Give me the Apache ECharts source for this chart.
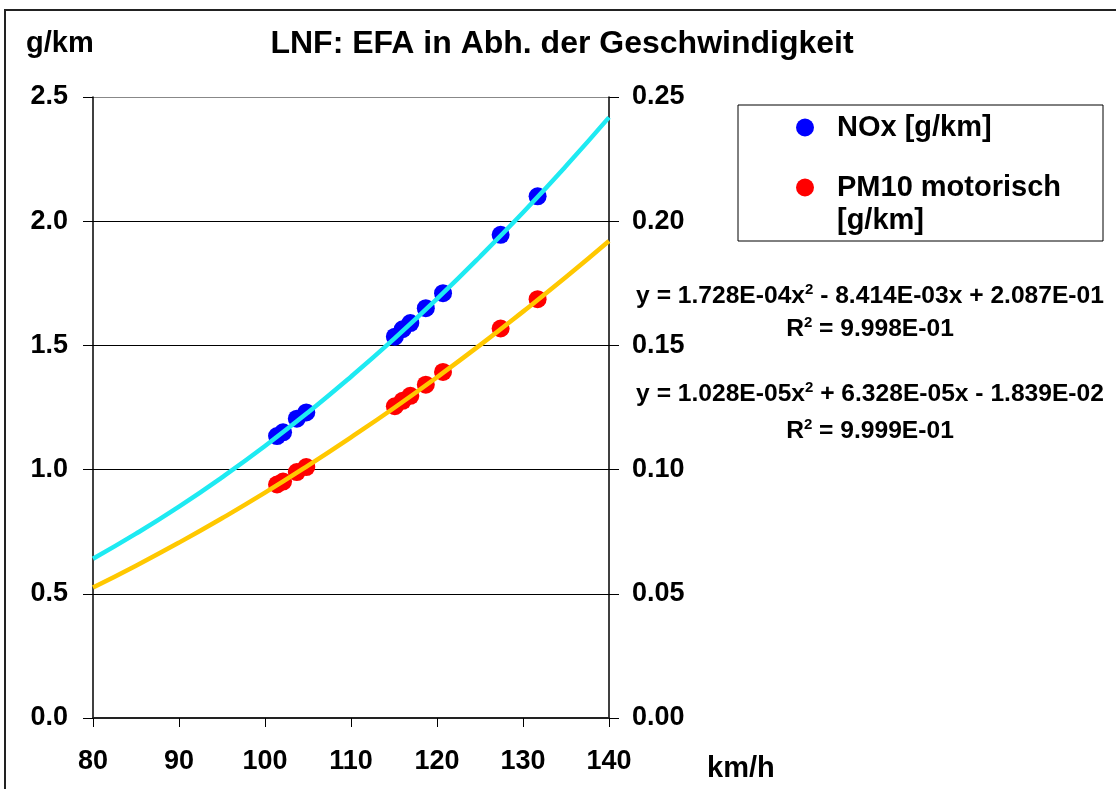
<!DOCTYPE html>
<html>
<head>
<meta charset="utf-8">
<script src="https://cdn.jsdelivr.net/npm/echarts@6/dist/echarts.min.js"></script>
<style>
  html, body { margin: 0; padding: 0; background: #fff; }
  #chart { width: 1116px; height: 789px; }
</style>
</head>
<body>
<div id="chart"></div>
<script>
// ---- data ----
var speeds = [101.4, 102.1, 103.7, 104.8, 115.1, 116.0, 116.9, 118.7, 120.7, 127.4, 131.7];
var noxValues = [1.135, 1.15, 1.205, 1.23, 1.535, 1.565, 1.59, 1.65, 1.71, 1.945, 2.10];
var pm10Values = [0.0940, 0.0952, 0.0990, 0.1010, 0.1255, 0.1277, 0.1297, 0.1342, 0.1393, 0.1568, 0.1686];
var trendSpeeds = [80, 85, 90, 95, 100, 105, 110, 115, 120, 125, 130, 135, 140];
var noxTrend = [0.641, 0.742, 0.851, 0.969, 1.095, 1.230, 1.374, 1.526, 1.687, 1.857, 2.035, 2.222, 2.418];
var pm10Trend = [0.0525, 0.0613, 0.0706, 0.0804, 0.0907, 0.1016, 0.1130, 0.1248, 0.1372, 0.1501, 0.1636, 0.1775, 0.1920];
var leftTicks = [0, 0.5, 1.0, 1.5, 2.0, 2.5];
var rightTicks = [0, 0.05, 0.10, 0.15, 0.20, 0.25];
var xTicks = [80, 90, 100, 110, 120, 130, 140];
var titleText = 'LNF: EFA in Abh. der Geschwindigkeit';
var noxName = 'NOx [g/km]';
var pm10Name = 'PM10 motorisch\n[g/km]';
var eqNox = ['y = 1.728E-04x', ' - 8.414E-03x + 2.087E-01', '9.998E-01'];
var eqPm10 = ['y = 1.028E-05x', ' + 6.328E-05x - 1.839E-02', '9.999E-01'];

function pair(xs, ys) { return xs.map(function (x, i) { return [x, ys[i]]; }); }

var FONT = '"Liberation Sans", Arial, sans-serif';
var chart = echarts.init(document.getElementById('chart'), null, { renderer: 'canvas' });

var eqRich = {
  n: { fontSize: 24.6, fontWeight: 'bold', fontFamily: FONT, color: '#000', lineHeight: 28 },
  s: { fontSize: 15, fontWeight: 'bold', fontFamily: FONT, color: '#000', verticalAlign: 'top', lineHeight: 28 }
};

chart.setOption({
  backgroundColor: '#fff',
  animation: false,
  title: {
    text: titleText,
    left: 557, top: 23, textAlign: 'center',
    textStyle: { fontSize: 32, fontWeight: 'bold', fontFamily: FONT, color: '#000' }
  },
  grid: { left: 93, right: 507, top: 97, bottom: 71, containLabel: false },
  legend: [
    {
      data: [noxName], orient: 'vertical', left: 796, top: 111, padding: 0,
      icon: 'circle', itemWidth: 18, itemHeight: 18,
      textStyle: { fontSize: 29, fontWeight: 'bold', fontFamily: FONT, color: '#000', lineHeight: 33, padding: [0, 0, 0, 18] }
    },
    {
      data: [pm10Name], orient: 'vertical', left: 796, top: 138, padding: 0,
      icon: 'circle', itemWidth: 18, itemHeight: 18,
      formatter: function (name) { return '\n' + name; },
      textStyle: { fontSize: 29, fontWeight: 'bold', fontFamily: FONT, color: '#000', lineHeight: 33, padding: [0, 0, 0, 18] }
    }
  ],
  xAxis: {
    type: 'value', min: 80, max: 140, interval: 10,
    axisLine: { show: true, lineStyle: { color: '#222', width: 2 } },
    axisTick: { show: true, length: 9, lineStyle: { color: '#000' } },
    splitLine: { show: false },
    axisLabel: { margin: 30, fontSize: 27, fontWeight: 'bold', fontFamily: FONT, color: '#000',
      formatter: function (v) { return xTicks.indexOf(v) >= 0 ? String(v) : ''; } }
  },
  yAxis: [
    {
      type: 'value', min: 0, max: 2.5, interval: 0.5, position: 'left',
      axisLine: { show: true, lineStyle: { color: '#000', width: 1.5 } },
      axisTick: { show: true, length: 10, lineStyle: { color: '#000' } },
      splitLine: { show: true, lineStyle: { color: ['#000', '#000', '#000', '#000', '#000', '#888'], width: 1 } },
      axisLabel: { margin: 25, fontSize: 27, fontWeight: 'bold', fontFamily: FONT, color: '#000',
        formatter: function (v) { return v.toFixed(1); } }
    },
    {
      type: 'value', min: 0, max: 0.25, interval: 0.05, position: 'right',
      axisLine: { show: true, lineStyle: { color: '#000', width: 1.5 } },
      axisTick: { show: true, length: 10, lineStyle: { color: '#000' } },
      splitLine: { show: false },
      axisLabel: { margin: 23, fontSize: 27, fontWeight: 'bold', fontFamily: FONT, color: '#000',
        formatter: function (v) { return v.toFixed(2); } }
    }
  ],
  series: [
    {
      name: noxName, type: 'scatter', yAxisIndex: 0, symbol: 'circle', symbolSize: 18,
      itemStyle: { color: '#0000FF', opacity: 1 }, data: pair(speeds, noxValues), z: 2
    },
    {
      name: pm10Name, type: 'scatter', yAxisIndex: 1, symbol: 'circle', symbolSize: 18,
      itemStyle: { color: '#FF0000', opacity: 1 }, data: pair(speeds, pm10Values), z: 2
    },
    {
      name: 'NOx trend', type: 'line', yAxisIndex: 0, smooth: true, showSymbol: false,
      lineStyle: { color: '#1EEAF2', width: 4.5 }, data: pair(trendSpeeds, noxTrend), z: 3
    },
    {
      name: 'PM10 trend', type: 'line', yAxisIndex: 1, smooth: true, showSymbol: false,
      lineStyle: { color: '#FFC800', width: 4.5 }, data: pair(trendSpeeds, pm10Trend), z: 3
    }
  ],
  graphic: [
    { type: 'rect', shape: { x: 5, y: 10, width: 1300, height: 1000 },
      style: { fill: 'none', stroke: '#222', lineWidth: 2 }, silent: true, z: -1 },
    { type: 'rect', shape: { x: 738, y: 105, width: 365, height: 136 },
      style: { fill: 'none', stroke: '#000', lineWidth: 1 }, silent: true },
    { type: 'text', x: 26, y: 44,
      style: { text: 'g/km', fontSize: 29, fontWeight: 'bold', fontFamily: FONT, fill: '#000', textVerticalAlign: 'middle' } },
    { type: 'text', x: 707, y: 769,
      style: { text: 'km/h', fontSize: 29, fontWeight: 'bold', fontFamily: FONT, fill: '#000', textVerticalAlign: 'middle' } },
    { type: 'text', x: 870, y: 296,
      style: { text: '{n|' + eqNox[0] + '}{s|2}{n|' + eqNox[1] + '}', rich: eqRich, textAlign: 'center', textVerticalAlign: 'middle' } },
    { type: 'text', x: 870, y: 329,
      style: { text: '{n|R}{s|2}{n| = ' + eqNox[2] + '}', rich: eqRich, textAlign: 'center', textVerticalAlign: 'middle' } },
    { type: 'text', x: 870, y: 394,
      style: { text: '{n|' + eqPm10[0] + '}{s|2}{n|' + eqPm10[1] + '}', rich: eqRich, textAlign: 'center', textVerticalAlign: 'middle' } },
    { type: 'text', x: 870, y: 431,
      style: { text: '{n|R}{s|2}{n| = ' + eqPm10[2] + '}', rich: eqRich, textAlign: 'center', textVerticalAlign: 'middle' } }
  ]
});
</script>
</body>
</html>
